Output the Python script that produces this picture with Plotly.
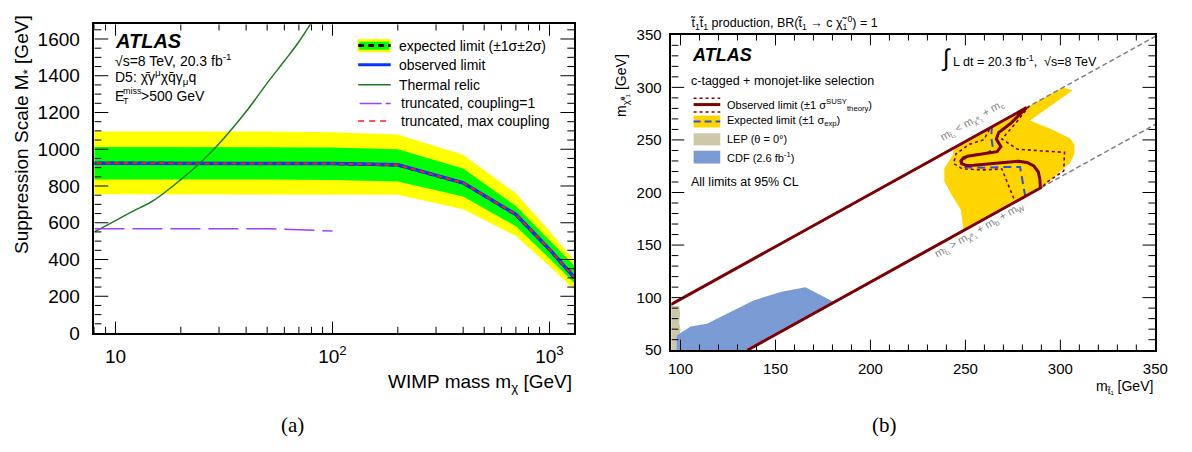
import math
import plotly.graph_objects as go

W, H = 1192, 452

# ---------------- panel (a): D5 operator, suppression-scale limits ----------------
MASS = [1, 10, 50, 100, 200, 400, 700, 1000, 1300]
OBS = [925, 925, 924, 922, 915, 817, 645, 455, 303]
EXP = [925, 925, 924, 922, 914, 816, 644, 454, 302]
EXP_P1 = [1014, 1014, 1013, 1010, 1000, 895, 691, 507, 368]
EXP_M1 = [836, 836, 835, 833, 825, 743, 581, 406, 272]
EXP_P2 = [1098, 1098, 1096, 1093, 1080, 970, 761, 555, 394]
EXP_M2 = [755, 755, 754, 753, 752, 674, 528, 364, 237]
TRUNC_MAX = [925, 925, 924, 922, 915, 817, 645, 455, 303]

RELIC_M = [8, 10, 12, 15, 20, 25, 30, 40, 50, 60, 70, 80]
RELIC_V = [550, 612, 662, 722, 835, 935, 1030, 1205, 1360, 1480, 1585, 1690]

TRUNC1_M = [8, 10, 20, 50, 70, 100]
TRUNC1_V = [568, 568, 568, 567, 562, 555]

LOG_MAJOR = [10, 100, 1000]
LOG_MAJOR_TEXT = ["10", "10<sup>2</sup>", "10<sup>3</sup>"]
LOG_MINOR = [8, 9, 20, 30, 40, 50, 60, 70, 80, 90,
             200, 300, 400, 500, 600, 700, 800, 900]

# ---------------- panel (b): stop -> charm + neutralino exclusion ----------------
# kinematic boundaries
KIN_C_X = [90, 352]
KIN_C_Y = [88.5, 350.5]
KIN_W_X = [135.2, 352]
KIN_W_Y = [50, 266.8]

OBS_X = [90, 282.2, 273.6, 267.5, 266.3, 268.7, 266.7, 259.7, 251.1, 249.0, 247.6,
         248.0, 250.5, 254.5, 266.7, 277.9, 282.5, 286.0, 288.4, 289.2, 289.5, 135.2]
OBS_Y = [88.5, 280.7, 265.4, 257.0, 250.9, 243.6, 238.8, 236.6, 234.5, 233.0, 230.0,
         227.4, 225.8, 226.0, 227.9, 229.7, 228.6, 225.2, 219.5, 212.4, 204.3, 50]

OBS_UP_X = [90, 283.6, 276.2, 269.2, 273.6, 277.4, 289.2, 302.2, 301.8, 292.6, 290.6, 135.2]
OBS_UP_Y = [88.5, 282.1, 265.4, 250.9, 245.7, 241.2, 239.7, 238.2, 220.6, 209.4, 205.4, 50]

OBS_DN_X = [90, 263.2, 259.7, 251.9, 245.0, 243.8, 248.5, 259.7, 269.2, 271.8, 275.0, 276.2, 135.2]
OBS_DN_Y = [88.5, 261.7, 250.3, 245.7, 236.7, 227.6, 222.4, 221.5, 222.4, 210.9, 197.3, 191.0, 50]

EXPC_X = [90, 264.0, 263.5, 264.6, 261.5, 254.5, 248.5, 247.9, 250.2, 259.7, 271.0,
          278.8, 279.8, 281.0, 281.5, 135.2]
EXPC_Y = [88.5, 262.5, 253.3, 241.2, 237.6, 235.7, 231.5, 226.6, 223.9, 223.6, 224.2,
          224.2, 213.9, 203.3, 196.3, 50]

BAND_X = [244.0, 301.3, 306.5, 284.0, 294.4, 304.8, 307.4, 307.4, 304.8, 297.8, 292.0,
          249.0, 247.6, 242.4, 238.9, 238.9, 243.3, 244.0]
BAND_Y = [242.5, 299.8, 297.3, 268.5, 260.9, 251.8, 245.8, 236.7, 227.6, 217.0, 206.8,
          163.8, 183.6, 198.8, 210.9, 223.0, 235.1, 242.5]

LEP_X = [90, 99.6, 99.2, 100.0, 99.3, 99.8, 99.4, 90]
LEP_Y = [50, 50, 62, 70, 76, 84, 92.1, 92.1]

CDF_X = [98.0, 98.0, 105.3, 113.9, 138.4, 153.2, 165.8, 180.9, 135.2, 98.0]
CDF_Y = [50, 63.9, 72.5, 75.2, 97.3, 105.5, 110.0, 95.7, 50, 50]

# colours
YEL = "#FFFF00"
GRN = "#00FF00"
BLUE = "#0A32FF"
RELIC = "#1E7B1E"
PURPLE = "#A040FF"
RED = "#FF1A1A"
DKRED = "#7F0000"
GOLD = "#FFD500"
TAN = "#CEC8AA"
CDFBLUE = "#7A9BD4"
EXPBLUE = "#2B4FE8"
GREY = "#808080"

FONT = "Liberation Sans"

# frame geometry (pixels) and axis ranges
A_LEFT, A_RIGHT, A_TOP, A_BOT = 92.7, 579.0, 16.0, 339.0
B_LEFT, B_RIGHT, B_TOP, B_BOT = 677.5, 1168.0, 27.0, 357.0
A_XR, A_YR = (8, 1300), (0, 1680)
B_XR, B_YR = (95.2, 350), (50, 350)

fig = go.Figure()

# ----- panel (a) traces -----
fig.add_trace(go.Scatter(x=MASS + MASS[::-1], y=EXP_P2 + EXP_M2[::-1], fill="toself",
                         fillcolor=YEL, line=dict(width=0), mode="lines",
                         xaxis="x", yaxis="y", hoverinfo="skip"))
fig.add_trace(go.Scatter(x=MASS + MASS[::-1], y=EXP_P1 + EXP_M1[::-1], fill="toself",
                         fillcolor=GRN, line=dict(width=0), mode="lines",
                         xaxis="x", yaxis="y", hoverinfo="skip"))
fig.add_trace(go.Scatter(x=MASS, y=EXP, mode="lines",
                         line=dict(color="black", width=3, dash="6px,4px"),
                         xaxis="x", yaxis="y"))
fig.add_trace(go.Scatter(x=MASS, y=OBS, mode="lines",
                         line=dict(color=BLUE, width=3.5), xaxis="x", yaxis="y"))
fig.add_trace(go.Scatter(x=MASS, y=TRUNC_MAX, mode="lines",
                         line=dict(color=RED, width=2, dash="5px,4px"),
                         xaxis="x", yaxis="y"))
fig.add_trace(go.Scatter(x=RELIC_M, y=RELIC_V, mode="lines", line_shape="spline",
                         line=dict(color=RELIC, width=1.5), xaxis="x", yaxis="y"))
fig.add_trace(go.Scatter(x=TRUNC1_M, y=TRUNC1_V, mode="lines",
                         line=dict(color=PURPLE, width=1.5, dash="30px,8px"),
                         xaxis="x", yaxis="y"))

# ----- panel (b) traces -----
fig.add_trace(go.Scatter(x=BAND_X, y=BAND_Y, fill="toself", fillcolor=GOLD,
                         line=dict(width=0), mode="lines", xaxis="x2", yaxis="y2"))
fig.add_trace(go.Scatter(x=LEP_X, y=LEP_Y, fill="toself", fillcolor=TAN,
                         line=dict(width=0), mode="lines", xaxis="x2", yaxis="y2"))
fig.add_trace(go.Scatter(x=CDF_X, y=CDF_Y, fill="toself", fillcolor=CDFBLUE,
                         line=dict(width=0), mode="lines", xaxis="x2", yaxis="y2"))
for kx, ky in ((KIN_C_X, KIN_C_Y), (KIN_W_X, KIN_W_Y)):
    fig.add_trace(go.Scatter(x=kx, y=ky, mode="lines",
                             line=dict(color=GREY, width=1.5, dash="5px,3px"),
                             xaxis="x2", yaxis="y2"))
fig.add_trace(go.Scatter(x=EXPC_X, y=EXPC_Y, mode="lines",
                         line=dict(color=EXPBLUE, width=2, dash="8px,5px"),
                         xaxis="x2", yaxis="y2"))
for cx, cy in ((OBS_UP_X, OBS_UP_Y), (OBS_DN_X, OBS_DN_Y)):
    fig.add_trace(go.Scatter(x=cx, y=cy, mode="lines",
                             line=dict(color=DKRED, width=1.6, dash="dot"),
                             xaxis="x2", yaxis="y2"))
fig.add_trace(go.Scatter(x=OBS_X, y=OBS_Y, mode="lines",
                         line=dict(color=DKRED, width=3), xaxis="x2", yaxis="y2"))


# ----- inside tick marks on all four sides, drawn as line segments -----
def tick_segments(xr, yr, width_px, height_px, xvals_len, yvals_len, xlog=False):
    xs, ys = [], []
    dy = (yr[1] - yr[0]) / height_px
    for v, ln in xvals_len:
        for y0, y1 in ((yr[0], yr[0] + ln * dy), (yr[1], yr[1] - ln * dy)):
            xs += [v, v, None]
            ys += [y0, y1, None]
    for v, ln in yvals_len:
        if xlog:
            k = 10 ** (ln * math.log10(xr[1] / xr[0]) / width_px)
            ends = ((xr[0], xr[0] * k), (xr[1], xr[1] / k))
        else:
            dx = (xr[1] - xr[0]) / width_px
            ends = ((xr[0], xr[0] + ln * dx), (xr[1], xr[1] - ln * dx))
        for x0, x1 in ends:
            xs += [x0, x1, None]
            ys += [v, v, None]
    return xs, ys


a_xt = [(v, 12) for v in LOG_MAJOR] + [(v, 6.5) for v in LOG_MINOR]
a_yt = [(v, 14 if v % 200 == 0 else 7) for v in range(50, 1680, 50)]
tx, ty = tick_segments(A_XR, A_YR, A_RIGHT - A_LEFT, A_BOT - A_TOP, a_xt, a_yt, xlog=True)
fig.add_trace(go.Scatter(x=tx, y=ty, mode="lines", line=dict(color="black", width=1),
                         xaxis="x", yaxis="y", hoverinfo="skip"))

b_xt = [(v, 11 if v % 50 == 0 else 6) for v in range(100, 350, 10)]
b_yt = [(v, 13 if v % 50 == 0 else 7) for v in range(60, 350, 10)]
tx, ty = tick_segments(B_XR, B_YR, B_RIGHT - B_LEFT, B_BOT - B_TOP, b_xt, b_yt)
fig.add_trace(go.Scatter(x=tx, y=ty, mode="lines", line=dict(color="black", width=1),
                         xaxis="x2", yaxis="y2", hoverinfo="skip"))


def px(v):
    return v / W


def py(v):
    return 1 - v / H


axis_common = dict(showline=True, linecolor="black", linewidth=1.5, mirror=True,
                   ticks="", showgrid=False, zeroline=False)

fig.update_layout(
    width=W, height=H, margin=dict(l=0, r=0, t=0, b=0),
    paper_bgcolor="white", plot_bgcolor="white", showlegend=False,
    font=dict(family=FONT, color="black"),
    xaxis=dict(axis_common, domain=[px(A_LEFT), px(A_RIGHT)], anchor="y", type="log",
               range=[math.log10(A_XR[0]), math.log10(A_XR[1])], tickmode="array",
               tickvals=LOG_MAJOR, ticktext=LOG_MAJOR_TEXT,
               tickfont=dict(size=19), ticklabelstandoff=5),
    yaxis=dict(axis_common, domain=[py(A_BOT), py(A_TOP)], anchor="x", range=list(A_YR),
               dtick=200, tick0=0, tickfont=dict(size=19), ticklabelstandoff=9),
    xaxis2=dict(axis_common, domain=[px(B_LEFT), px(B_RIGHT)], anchor="y2",
                range=list(B_XR), dtick=50, tick0=0, tickfont=dict(size=15),
                ticklabelstandoff=4),
    yaxis2=dict(axis_common, domain=[py(B_BOT), py(B_TOP)], anchor="x2", range=list(B_YR),
                dtick=50, tick0=0, tickfont=dict(size=15), ticklabelstandoff=5),
)

ann = []
shapes = []


def text(x, y, s, size, xanchor="left", yanchor="middle", color="black", angle=0,
         family=FONT, xref="paper", yref="paper"):
    if xref == "paper":
        x = px(x)
    if yref == "paper":
        y = py(y)
    ann.append(dict(x=x, y=y, xref=xref, yref=yref, text=s, showarrow=False,
                    xanchor=xanchor, yanchor=yanchor, textangle=angle,
                    font=dict(size=size, color=color, family=family)))


# panel (a) text
text(111, 33.5, "<b><i>ATLAS</i></b>", 20)
text(111, 53.5, "√s=8 TeV, 20.3 fb<sup>-1</sup>", 14)
text(111, 71.5, "D5: χ\u0304γ<sup>μ</sup>χq\u0304γ<sub>μ</sub>q", 14)
text(111, 91.5, "E", 14)
text(119.5, 86, "miss", 9)
text(119.5, 96.5, "T", 9)
text(138, 91.5, "&gt;500 GeV", 14)
text(20, 131, "Suppression Scale M<sub>*</sub> [GeV]", 19, xanchor="center", angle=-90)
text(579, 391, "WIMP mass m<sub>χ</sub> [GeV]", 19, xanchor="right")
text(293, 435, "(a)", 21, xanchor="center", family="Liberation Serif")

# panel (a) legend
LEG_A = [("expected limit (±1σ±2σ)", 38.3, 399.5),
         ("observed limit", 58.3, 399.5),
         ("Thermal relic", 79.3, 399.5),
         ("truncated, coupling=1", 98.8, 401.5),
         ("truncated, max coupling", 117.3, 401.5)]
for label, yy, xx in LEG_A:
    text(xx, yy, label, 14)


def rect(x0, y0, x1, y1, color):
    shapes.append(dict(type="rect", xref="paper", yref="paper", x0=px(x0), x1=px(x1),
                       y0=py(y0), y1=py(y1), fillcolor=color, line=dict(width=0)))


def hline(x0, x1, y, color, width, dash="solid"):
    shapes.append(dict(type="line", xref="paper", yref="paper", x0=px(x0), x1=px(x1),
                       y0=py(y), y1=py(y), line=dict(color=color, width=width, dash=dash)))


rect(359.5, 31.5, 393, 45.3, YEL)
rect(361, 34.2, 391.5, 42.6, GRN)
hline(360, 393, 38.3, "black", 3, "6px,4px")
hline(360, 393, 58.3, BLUE, 3)
hline(360, 393, 79.3, RELIC, 1.5)
hline(361.5, 393, 98.8, PURPLE, 1.5, "22px,4px")
hline(360, 390, 117.3, RED, 1.5, "6px,5px")

# panel (b) text
text(694, 14.5, "t\u0303<sub>1</sub>t\u0303<sub>1</sub> production, BR(t\u0303<sub>1</sub> → c χ\u0303<sub>1</sub><sup>0</sup>) = 1", 12.5)
text(696, 48.5, "<b><i>ATLAS</i></b>", 18)
text(695, 75, "c-tagged + monojet-like selection", 12.5)
text(731.5, 100, "Observed limit (±1 σ<sup>SUSY</sup><sub>theory</sub>)", 11)
text(731.5, 117.7, "Expected limit (±1 σ<sub>exp</sub>)", 11)
text(731.5, 136.3, "LEP (θ = 0°)", 11)
text(731.5, 155, "CDF (2.6 fb<sup>-1</sup>)", 11)
text(695, 180.5, "All limits at 95% CL", 12.5)
text(949, 51, "<span style='font-size:24px'>∫</span> L dt = 20.3 fb<sup>-1</sup>,  √s=8 TeV", 12.5)
text(628, 80, "m<sub>χ\u0303⁰₁</sub> [GeV]", 14, xanchor="center", angle=-90)
text(1168, 395, "m<sub>t\u0303₁</sub> [GeV]", 14, xanchor="right")
text(893, 435, "(b)", 21, xanchor="center", family="Liberation Serif")

# labels along the kinematic boundaries
text(253.5, 267.7, "m<sub>t\u0303₁</sub> &lt; m<sub>χ\u0303⁰₁</sub> + m<sub>c</sub>", 11,
     xanchor="center", color=GREY, angle=-29.8, xref="x2", yref="y2")
text(257.5, 164.5, "m<sub>t\u0303₁</sub> &gt; m<sub>χ\u0303⁰₁</sub> + m<sub>b</sub> + m<sub>W</sub>", 11,
     xanchor="center", color=GREY, angle=-29.8, xref="x2", yref="y2")

# panel (b) legend symbols
hline(700, 727, 93.3, DKRED, 1.5, "dot")
hline(700, 727, 100, DKRED, 3)
hline(700, 727, 107.7, DKRED, 1.5, "dot")
rect(700, 111.5, 727, 124, GOLD)
hline(700, 727, 117.7, EXPBLUE, 2, "7px,4px")
rect(700, 130, 727, 142.7, TAN)
rect(700, 148.3, 727, 161.7, CDFBLUE)

fig.update_layout(annotations=ann, shapes=shapes)
fig.write_html("out.html")
